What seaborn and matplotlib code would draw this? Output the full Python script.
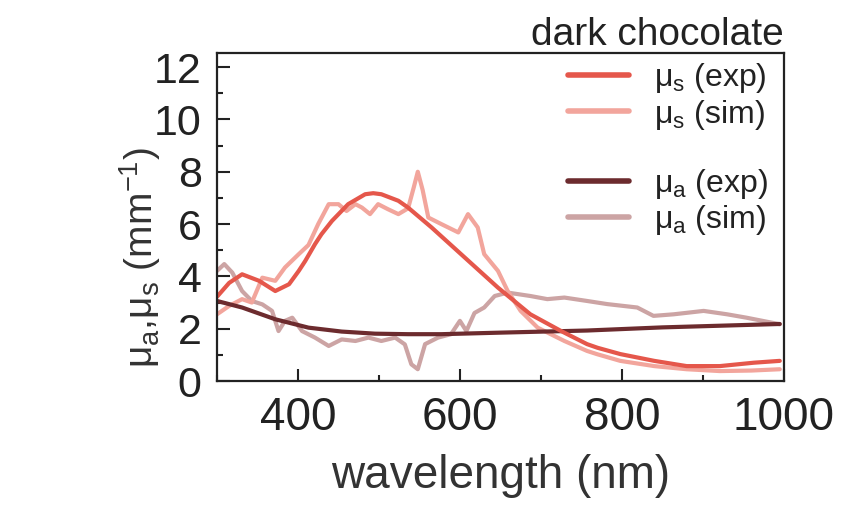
import pandas as pd
import matplotlib
matplotlib.use('Agg')
import matplotlib.pyplot as plt
from matplotlib.lines import Line2D
from matplotlib.ticker import MultipleLocator
import seaborn as sns

# scattering coefficient, measured (wavelength nm, mm^-1)
mus_exp_wl = [300, 315, 331, 352, 372, 389, 401, 409, 421, 429, 442, 462, 483, 493,
              503, 524, 536, 565, 606, 647, 687, 725, 757, 770, 798, 840, 880, 921,
              963, 995]
mus_exp = [3.22, 3.75, 4.08, 3.83, 3.44, 3.7, 4.21, 4.59, 5.23, 5.61, 6.12, 6.76, 7.14, 7.18,
           7.14, 6.89, 6.63, 5.87, 4.72, 3.57, 2.55, 1.91, 1.41, 1.27, 1.03, 0.77, 0.57, 0.57,
           0.7, 0.77]

# scattering coefficient, simulated
mus_sim_wl = [300, 315, 331, 343, 356, 372, 384, 401, 413, 425, 438, 450, 460, 471,
              479, 489, 499, 511, 524, 536, 543, 548, 554, 561, 577, 598, 610, 622,
              630, 647, 659, 675, 696, 729, 757, 770, 798, 840, 880, 921, 960, 995]
mus_sim = [2.55, 2.87, 3.13, 3.0, 3.95, 3.83, 4.34, 4.85, 5.2, 6.0, 6.76, 6.76, 6.5, 6.76,
           6.63, 6.38, 6.76, 6.57, 6.38, 6.6, 7.4, 8.0, 7.3, 6.25, 6.0, 5.68, 6.38, 5.87,
           4.85, 4.21, 3.44, 2.68, 2.04, 1.53, 1.15, 1.02, 0.77, 0.57, 0.45, 0.38, 0.4, 0.45]

# absorption coefficient, measured
mua_exp_wl = [300, 331, 372, 413, 454, 495, 536, 577, 651, 757, 850, 995]
mua_exp = [3.06, 2.81, 2.36, 2.04, 1.89, 1.81, 1.79, 1.79, 1.85, 1.93, 2.05, 2.18]

# absorption coefficient, simulated
mua_sim_wl = [300, 309, 319, 331, 343, 356, 368, 376, 384, 393, 405, 421, 438, 454,
              471, 487, 503, 520, 532, 540, 548, 557, 573, 589, 600, 608, 618, 630,
              643, 659, 687, 708, 729, 757, 782, 819, 839, 864, 901, 930, 954, 995]
mua_sim = [4.21, 4.47, 4.14, 3.44, 3.06, 2.93, 2.68, 1.91, 2.3, 2.42, 1.91, 1.66, 1.34, 1.59,
           1.53, 1.66, 1.53, 1.66, 1.4, 0.64, 0.45, 1.41, 1.66, 1.79, 2.3, 1.91, 2.6, 2.81,
           3.25, 3.38, 3.25, 3.13, 3.19, 3.06, 2.94, 2.81, 2.49, 2.55, 2.68, 2.55, 2.42, 2.17]

labels = [r'$\mu_s$ (exp)', r'$\mu_s$ (sim)', '', r'$\mu_a$ (exp)', r'$\mu_a$ (sim)']
colors = ['#e5574b', '#f2a59c', 'none', '#6c2b2e', '#cca4a4']

sns.set_style('ticks')
plt.rcParams['font.family'] = ['Liberation Sans', 'DejaVu Sans']
plt.rcParams['mathtext.fontset'] = 'custom'
plt.rcParams['mathtext.rm'] = 'Liberation Sans'
plt.rcParams['mathtext.it'] = 'Liberation Sans:italic'
plt.rcParams['mathtext.default'] = 'regular'

fig = plt.figure(figsize=(8.41, 5.07), dpi=100)
ax = fig.add_axes([0.258, 0.2485, 0.674, 0.647])

# sim curves first, measured ones on top
series = [
    (mua_sim_wl, mua_sim, colors[4]),
    (mus_sim_wl, mus_sim, colors[1]),
    (mua_exp_wl, mua_exp, colors[3]),
    (mus_exp_wl, mus_exp, colors[0]),
]
for wl, val, col in series:
    df = pd.DataFrame({'wl': wl, 'val': val})
    sns.lineplot(data=df, x='wl', y='val', color=col, lw=3.0, ax=ax)

ax.set_xlim(300, 1000)
ax.set_ylim(0, 12.54)
ax.xaxis.set_major_locator(MultipleLocator(200))
ax.xaxis.set_minor_locator(MultipleLocator(100))
ax.yaxis.set_major_locator(MultipleLocator(2))
ax.yaxis.set_minor_locator(MultipleLocator(1))
ax.tick_params(which='both', direction='in', top=False, right=False,
               width=1.5, colors='#222222')
ax.tick_params(which='major', length=9, pad=11)
ax.tick_params(which='minor', length=4.5)
ax.tick_params(axis='x', labelsize=33)
ax.tick_params(axis='y', labelsize=31)
for s in ax.spines.values():
    s.set_linewidth(1.6)
    s.set_color('#222222')

ax.set_xlabel('wavelength (nm)', fontsize=33, color='#333333', labelpad=10)
ax.set_ylabel(r'$\mu_a$,$\mu_s$ (mm$^{-1}$)', fontsize=28, color='#333333')
ax.yaxis.set_label_coords(-0.095, 0.375)
ax.set_title('dark chocolate', loc='right', fontsize=28, color='#222222', pad=4)

handles = [Line2D([], [], color=c, lw=4 if c != 'none' else 0) for c in colors]
leg = ax.legend(handles, labels, loc='upper right', frameon=False, fontsize=23,
                handlelength=1.9, handletextpad=0.8, labelspacing=0.08,
                borderpad=0.15, borderaxespad=0, bbox_to_anchor=(0.981, 0.99))
for t in leg.get_texts():
    t.set_color('#222222')

fig.savefig('out.png', dpi=100)
